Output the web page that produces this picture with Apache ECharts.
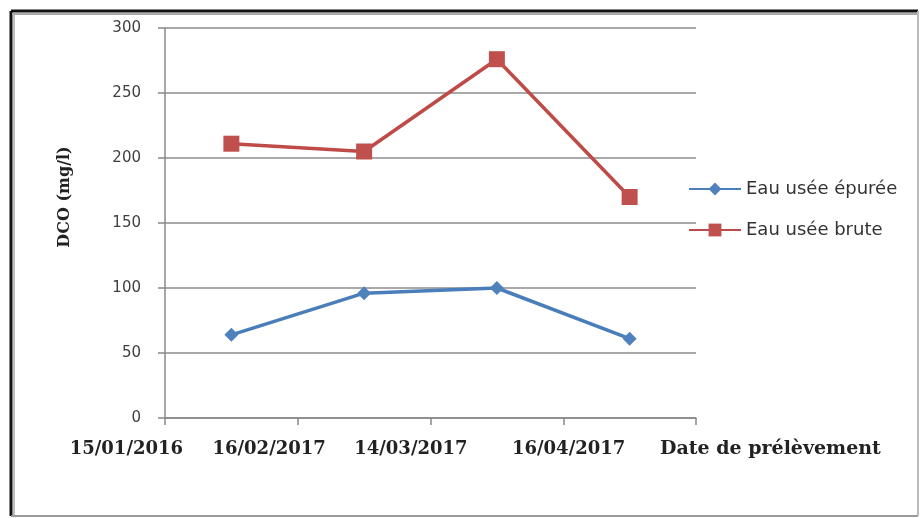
<!DOCTYPE html>
<html>
<head>
<meta charset="utf-8">
<script src="https://cdn.jsdelivr.net/npm/echarts@6/dist/echarts.min.js"></script>
<style>html,body{margin:0;padding:0;background:#fff;}#c{width:920px;height:518px;}</style>
</head>
<body>
<div id="c"></div>
<script>
var categories = ['15/01/2016', '16/02/2017', '14/03/2017', '16/04/2017'];
var eauEpuree = [64, 96, 100, 61];
var eauBrute = [211, 205, 276, 170];
var yTicks = [0, 50, 100, 150, 200, 250, 300];
var seriesNames = ['Eau usée épurée', 'Eau usée brute'];

var chart = echarts.init(document.getElementById('c'));
var labelShift = [210, 190, 172, 122];
var rich = {};
labelShift.forEach(function (p, i) {
  rich['l' + i] = {
    fontFamily: 'DejaVu Serif', fontWeight: 'bold', fontSize: 18, color: '#222',
    padding: [0, p, 0, 0]
  };
});
chart.setOption({
  animation: false,
  backgroundColor: '#fff',
  grid: { left: 165, right: 224, top: 28, bottom: 100 },
  legend: {
    orient: 'vertical', left: 688, top: 180, itemGap: 23, padding: 0,
    itemWidth: 52, itemHeight: 16,
    textStyle: { fontFamily: 'DejaVu Sans', fontSize: 18, color: '#333' },
    data: seriesNames
  },
  graphic: [
    { type: 'line', shape: { x1: 11, y1: 11, x2: 918, y2: 11 }, style: { stroke: '#111', lineWidth: 3 } },
    { type: 'line', shape: { x1: 11, y1: 11, x2: 11, y2: 516 }, style: { stroke: '#111', lineWidth: 3 } },
    { type: 'line', shape: { x1: 12, y1: 14, x2: 918, y2: 14 }, style: { stroke: '#aaa', lineWidth: 2 } },
    { type: 'line', shape: { x1: 14, y1: 14, x2: 14, y2: 516 }, style: { stroke: '#aaa', lineWidth: 1.5 } },
    { type: 'line', shape: { x1: 11, y1: 516, x2: 918, y2: 516 }, style: { stroke: '#999', lineWidth: 2 } },
    { type: 'line', shape: { x1: 918, y1: 11, x2: 918, y2: 516 }, style: { stroke: '#bbb', lineWidth: 2 } }
  ],
  xAxis: {
    type: 'category',
    data: categories,
    boundaryGap: true,
    name: 'Date de prélèvement',
    nameLocation: 'end',
    nameGap: -36,
    nameTextStyle: {
      fontFamily: 'DejaVu Serif', fontWeight: 'bold', fontSize: 19, color: '#222',
      align: 'left', verticalAlign: 'top', padding: [22, 0, 0, 0]
    },
    axisLine: { lineStyle: { color: '#888', width: 1.5 } },
    axisTick: { show: true, length: 7, lineStyle: { color: '#888', width: 1.5 } },
    axisLabel: {
      interval: 0, margin: 22,
      formatter: function (v, i) { return '{l' + i + '|' + v + '}'; },
      rich: rich
    }
  },
  yAxis: {
    type: 'value',
    min: 0, max: 300, interval: 50,
    name: 'DCO (mg/l)',
    nameLocation: 'middle',
    nameRotate: 90,
    nameGap: 92,
    nameTextStyle: {
      fontFamily: 'DejaVu Serif', fontWeight: 'bold', fontSize: 16, color: '#222',
      padding: [0, 0, 0, 52]
    },
    axisLine: { show: true, lineStyle: { color: '#888', width: 1.5 } },
    axisTick: { show: true, length: 7, lineStyle: { color: '#888', width: 1.5 } },
    axisLabel: {
      margin: 24, fontFamily: 'DejaVu Sans', fontSize: 15, color: '#404040',
      formatter: function (v) { return yTicks.indexOf(v) >= 0 ? String(v) : ''; }
    },
    splitLine: { lineStyle: { color: '#8c8c8c', width: 1.5 } }
  },
  series: [
    {
      name: seriesNames[0], type: 'line', data: eauEpuree,
      symbol: 'diamond', symbolSize: 14,
      lineStyle: { color: '#4a7ebb', width: 3.5 },
      itemStyle: { color: '#4f81bd' }
    },
    {
      name: seriesNames[1], type: 'line', data: eauBrute,
      symbol: 'rect', symbolSize: 16,
      lineStyle: { color: '#be4b48', width: 3.5 },
      itemStyle: { color: '#c0504d' }
    }
  ]
});
</script>
</body>
</html>
